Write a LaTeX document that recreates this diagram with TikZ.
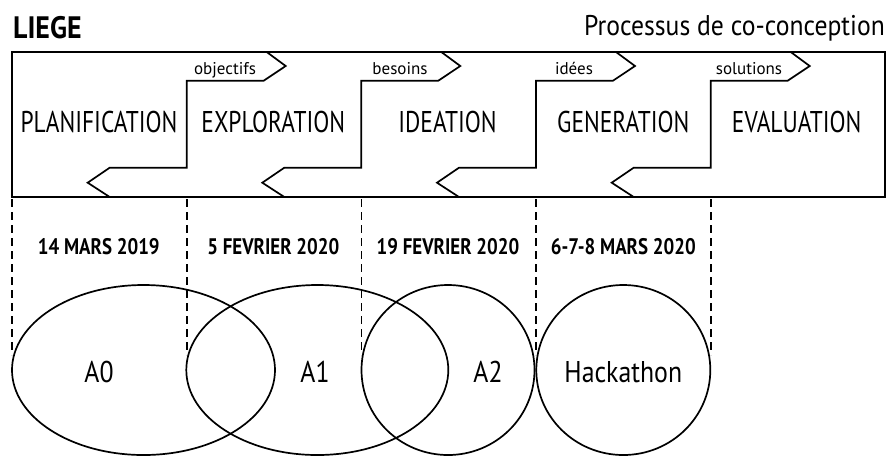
\documentclass[tikz,border=0pt]{standalone}
\usepackage{fontspec}
\setmainfont{PT Sans}
\newfontfamily\condP{PT Sans}[FakeStretch=0.78]
\newfontfamily\condD{PT Sans}[FakeStretch=0.84]
\newfontfamily\condL{PT Sans}[FakeStretch=0.86]
\newfontfamily\condT{PT Sans}[FakeStretch=0.9]
\tikzset{
  ln/.style={line width=1.7pt, line join=miter},
  dsh/.style={line width=1.6pt, dash pattern=on 8pt off 5pt},
  phase/.style={anchor=base, inner sep=0pt, font=\condP\fontsize{30}{30}\selectfont},
  small/.style={anchor=base, inner sep=0pt, font=\fontsize{17}{17}\selectfont},
  datel/.style={anchor=base, inner sep=0pt, font=\condD\bfseries\fontsize{22.5}{22.5}\selectfont},
  ell/.style={draw, ellipse, line width=1.7pt, inner sep=0pt},
  lab/.style={anchor=base, inner sep=0pt, font=\condL\fontsize{30}{30}\selectfont},
}
\usetikzlibrary{shapes.geometric}
\begin{document}
\begin{tikzpicture}[x=1pt,y=-1pt]
\useasboundingbox (0,0) rectangle (890,456);
% titles
\node[anchor=base west, inner sep=0pt, font=\condT\bfseries\fontsize{31}{31}\selectfont] (liege) at (13,38.3) {LIEGE};
\node[anchor=base east, inner sep=0pt, font=\condT\fontsize{28.5}{28.5}\selectfont] (proc) at (885,35) {Processus de co-conception};
% frame
\draw[ln] (12,52) rectangle (885,197);
% boundaries
\foreach \v in {186.7,361.3,536,710.7}{
  \fill[white] (\v+80,52) -- (\v+99,66) -- (\v+77,80.7) -- (\v,80.7) -- (\v,167.7) -- (\v-77,167.7) -- (\v-99,182.7) -- (\v-77,197) -- cycle;
  \draw[ln] (\v+80,52) -- (\v+99,66) -- (\v+77,80.7) -- (\v,80.7) -- (\v,167.7) -- (\v-77,167.7) -- (\v-99,182.7) -- (\v-77,197);
}
\draw[ln] (12,52) rectangle (885,197);
% small labels
\node[small] (l1) at (225,74.3) {objectifs};
\node[small] (l2) at (400,74.3) {besoins};
\node[small] (l3) at (574,74.3) {idées};
\node[small] (l4) at (749,74.3) {solutions};
% phases
\node[phase] (p1) at (99,132.7) {PLANIFICATION};
\node[phase] (p2) at (273.3,132.7) {EXPLORATION};
\node[phase] (p3) at (447.5,132.7) {IDEATION};
\node[phase] (p4) at (623.3,132.7) {GENERATION};
\node[phase] (p5) at (796.7,132.7) {EVALUATION};
% dashed
\foreach \x in {12,186.7,361.3,536,710.7}{
  \draw[dsh] (\x,199) -- (\x,355);
}
% dates
\node[datel] (d1) at (98.8,254) {14 MARS 2019};
\node[datel] (d2) at (273.3,254) {5 FEVRIER 2020};
\node[datel] (d3) at (448,254) {19 FEVRIER 2020};
\node[datel] (d4) at (623.3,254) {6-7-8 MARS 2020};
% ellipses
\node[ell, minimum width=263pt, minimum height=170pt] (e0) at (143.5,370) {};
\node[ell, minimum width=262pt, minimum height=170pt] (e1) at (317.3,370) {};
\node[ell, minimum width=173pt, minimum height=170pt] (e2) at (448,370) {};
\node[ell, minimum width=174pt, minimum height=170pt] (e3) at (623.3,370) {};
\node[lab] (a0) at (99,382.7) {A0};
\node[lab] (a1) at (315,382.7) {A1};
\node[lab] (a2) at (488,382.7) {A2};
\node[lab] (hk) at (623.3,382.7) {Hackathon};
\end{tikzpicture}
\end{document}
